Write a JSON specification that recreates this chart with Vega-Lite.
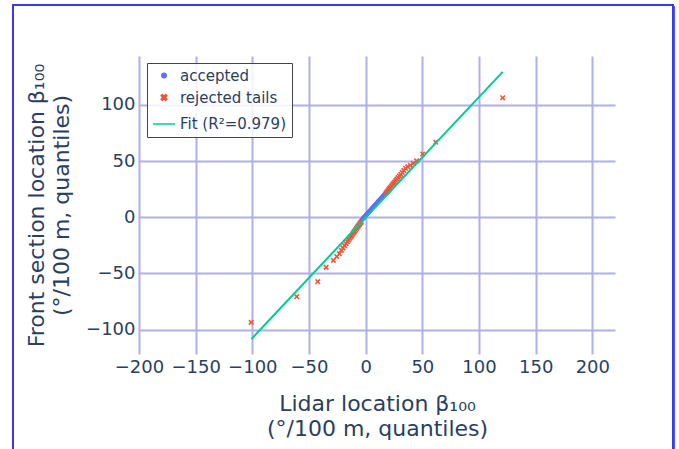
{
  "$schema": "https://vega.github.io/schema/vega-lite/v6.json",
  "width": 476,
  "height": 298,
  "autosize": {"type": "none"},
  "padding": {"left": 139, "top": 56, "right": 64, "bottom": 95},
  "background": "white",
  "config": {
    "view": {"stroke": null},
    "font": "DejaVu Sans",
    "axis": {
      "grid": true,
      "gridColor": "#b0b0e8",
      "gridWidth": 2,
      "gridOpacity": 1,
      "domain": false,
      "ticks": false,
      "labelOverlap": false,
      "labelFlush": false,
      "labelFont": "DejaVu Sans",
      "labelFontSize": 18,
      "labelColor": "#2a3f5f",
      "titleFont": "DejaVu Sans",
      "titleFontSize": 22,
      "titleFontWeight": "normal",
      "titleColor": "#2a3f5f",
      "titleLineHeight": 25
    }
  },
  "data": {
    "values": [
      {"x": -3.4, "y": -2.5, "series": "accepted"},
      {"x": -3.0, "y": -1.9, "series": "accepted"},
      {"x": -2.6, "y": -1.5, "series": "accepted"},
      {"x": -2.2, "y": -1.0, "series": "accepted"},
      {"x": -1.9, "y": -0.7, "series": "accepted"},
      {"x": -1.6, "y": -0.3, "series": "accepted"},
      {"x": -1.3, "y": 0.0, "series": "accepted"},
      {"x": -1.0, "y": 0.4, "series": "accepted"},
      {"x": -0.7, "y": 0.7, "series": "accepted"},
      {"x": -0.4, "y": 1.0, "series": "accepted"},
      {"x": -0.1, "y": 1.4, "series": "accepted"},
      {"x": 0.2, "y": 1.7, "series": "accepted"},
      {"x": 0.5, "y": 2.1, "series": "accepted"},
      {"x": 0.8, "y": 2.4, "series": "accepted"},
      {"x": 1.1, "y": 2.8, "series": "accepted"},
      {"x": 1.4, "y": 3.1, "series": "accepted"},
      {"x": 1.7, "y": 3.5, "series": "accepted"},
      {"x": 2.0, "y": 3.8, "series": "accepted"},
      {"x": 2.4, "y": 4.3, "series": "accepted"},
      {"x": 2.8, "y": 4.7, "series": "accepted"},
      {"x": 3.2, "y": 5.2, "series": "accepted"},
      {"x": 3.6, "y": 5.6, "series": "accepted"},
      {"x": 4.0, "y": 6.1, "series": "accepted"},
      {"x": 4.5, "y": 6.7, "series": "accepted"},
      {"x": 5.0, "y": 7.2, "series": "accepted"},
      {"x": 5.5, "y": 7.8, "series": "accepted"},
      {"x": 6.0, "y": 8.4, "series": "accepted"},
      {"x": 6.6, "y": 9.1, "series": "accepted"},
      {"x": 7.2, "y": 9.8, "series": "accepted"},
      {"x": 7.8, "y": 10.5, "series": "accepted"},
      {"x": 8.4, "y": 11.2, "series": "accepted"},
      {"x": 9.1, "y": 12.0, "series": "accepted"},
      {"x": 9.8, "y": 12.8, "series": "accepted"},
      {"x": 10.6, "y": 13.7, "series": "accepted"},
      {"x": 11.4, "y": 14.6, "series": "accepted"},
      {"x": 12.3, "y": 15.6, "series": "accepted"},
      {"x": 13.2, "y": 16.7, "series": "accepted"},
      {"x": 14.2, "y": 17.8, "series": "accepted"},
      {"x": 15.2, "y": 19.0, "series": "accepted"},
      {"x": 16.3, "y": 20.2, "series": "accepted"},
      {"x": 17.4, "y": 21.4, "series": "accepted"},
      {"x": 18.0, "y": 21.6, "series": "rejected tails"},
      {"x": 18.8, "y": 22.6, "series": "rejected tails"},
      {"x": 19.6, "y": 23.6, "series": "rejected tails"},
      {"x": 20.4, "y": 24.7, "series": "rejected tails"},
      {"x": 21.2, "y": 25.7, "series": "rejected tails"},
      {"x": 22.0, "y": 26.7, "series": "rejected tails"},
      {"x": 22.9, "y": 27.9, "series": "rejected tails"},
      {"x": 23.8, "y": 29.0, "series": "rejected tails"},
      {"x": 24.7, "y": 30.2, "series": "rejected tails"},
      {"x": 25.6, "y": 31.3, "series": "rejected tails"},
      {"x": 26.6, "y": 32.6, "series": "rejected tails"},
      {"x": 27.6, "y": 33.9, "series": "rejected tails"},
      {"x": 28.7, "y": 35.3, "series": "rejected tails"},
      {"x": 29.8, "y": 36.7, "series": "rejected tails"},
      {"x": 31.0, "y": 38.2, "series": "rejected tails"},
      {"x": 32.3, "y": 39.9, "series": "rejected tails"},
      {"x": 33.7, "y": 41.7, "series": "rejected tails"},
      {"x": 35.2, "y": 43.6, "series": "rejected tails"},
      {"x": 37.2, "y": 44.8, "series": "rejected tails"},
      {"x": 39.4, "y": 46.2, "series": "rejected tails"},
      {"x": 42.0, "y": 48.0, "series": "rejected tails"},
      {"x": 45.0, "y": 50.2, "series": "rejected tails"},
      {"x": 50.3, "y": 56.3, "series": "rejected tails"},
      {"x": 61.8, "y": 66.8, "series": "rejected tails"},
      {"x": 120.9, "y": 106.4, "series": "rejected tails"},
      {"x": -3.9, "y": -4.0, "series": "rejected tails"},
      {"x": -4.5, "y": -4.9, "series": "rejected tails"},
      {"x": -5.2, "y": -5.9, "series": "rejected tails"},
      {"x": -5.9, "y": -6.9, "series": "rejected tails"},
      {"x": -6.6, "y": -7.9, "series": "rejected tails"},
      {"x": -7.3, "y": -8.9, "series": "rejected tails"},
      {"x": -8.0, "y": -9.9, "series": "rejected tails"},
      {"x": -8.8, "y": -11.1, "series": "rejected tails"},
      {"x": -9.6, "y": -12.3, "series": "rejected tails"},
      {"x": -10.4, "y": -13.4, "series": "rejected tails"},
      {"x": -11.2, "y": -14.6, "series": "rejected tails"},
      {"x": -12.1, "y": -15.9, "series": "rejected tails"},
      {"x": -13.0, "y": -17.2, "series": "rejected tails"},
      {"x": -14.0, "y": -18.6, "series": "rejected tails"},
      {"x": -15.0, "y": -20.1, "series": "rejected tails"},
      {"x": -16.1, "y": -21.7, "series": "rejected tails"},
      {"x": -17.3, "y": -23.4, "series": "rejected tails"},
      {"x": -18.6, "y": -25.3, "series": "rejected tails"},
      {"x": -20.0, "y": -27.3, "series": "rejected tails"},
      {"x": -21.5, "y": -29.5, "series": "rejected tails"},
      {"x": -23.2, "y": -32.5, "series": "rejected tails"},
      {"x": -25.5, "y": -35.0, "series": "rejected tails"},
      {"x": -28.5, "y": -38.4, "series": "rejected tails"},
      {"x": -34.9, "y": -44.6, "series": "rejected tails"},
      {"x": -42.3, "y": -57.4, "series": "rejected tails"},
      {"x": -60.8, "y": -70.8, "series": "rejected tails"},
      {"x": -101.0, "y": -93.6, "series": "rejected tails"},
      {"x": -100.8, "y": -108.5, "series": "Fit (R²=0.979)"},
      {"x": 120.9, "y": 129.5, "series": "Fit (R²=0.979)"}
    ]
  },
  "layer": [
    {
      "mark": {"type": "rect", "filled": false, "stroke": "#3a3af2", "strokeWidth": 1.3, "clip": false},
      "encoding": {
        "x": {"datum": -311.2, "type": "quantitative", "scale": {"domain": [-200, 220], "nice": false, "zero": false}},
        "x2": {"datum": 271.5},
        "y": {"datum": 188.6, "type": "quantitative", "scale": {"domain": [-121.8, 143.6], "nice": false, "zero": false}},
        "y2": {"datum": -230}
      }
    },
    {
      "transform": [{"filter": "datum.series !== 'Fit (R²=0.979)'"}],
      "mark": {"type": "point", "filled": true, "opacity": 1, "strokeWidth": 0},
      "encoding": {
        "x": {
          "field": "x", "type": "quantitative",
          "scale": {"domain": [-200, 220], "nice": false, "zero": false},
          "axis": {
            "values": [-200, -150, -100, -50, 0, 50, 100, 150, 200],
            "labelPadding": 4,
            "titlePadding": 17,
            "title": ["Lidar location β₁₀₀", "(°/100 m, quantiles)"]
          }
        },
        "y": {
          "field": "y", "type": "quantitative",
          "scale": {"domain": [-121.8, 143.6], "nice": false, "zero": false},
          "axis": {
            "values": [-100, -50, 0, 50, 100],
            "labelPadding": 4,
            "titlePadding": 12,
            "title": ["Front section location β₁₀₀", "(°/100 m, quantiles)"]
          }
        },
        "color": {
          "field": "series", "type": "nominal",
          "scale": {
            "domain": ["accepted", "rejected tails", "Fit (R²=0.979)"],
            "range": ["#636efa", "#ef553b", "#00cc96"]
          },
          "legend": {
            "title": null,
            "orient": "none",
            "legendX": 8,
            "legendY": 7,
            "padding": 5,
            "rowPadding": 6,
            "labelOffset": 4,
            "labelFont": "DejaVu Sans",
            "labelFontSize": 15,
            "labelColor": "#2a3f5f",
            "strokeColor": "#444444",
            "fillColor": "rgba(255,255,255,0.85)",
            "labelLimit": 300,
            "encode": {
              "symbols": {
                "update": {
                  "stroke": {"scale": "color", "field": "value"},
                  "strokeWidth": {"signal": "datum.value === 'Fit (R²=0.979)' ? 2 : 0"},
                  "opacity": {"value": 1}
                }
              }
            }
          }
        },
        "shape": {
          "field": "series", "type": "nominal",
          "scale": {
            "domain": ["accepted", "rejected tails", "Fit (R²=0.979)"],
            "range": ["circle", "M-1,-0.6L-0.6,-1L0,-0.4L0.6,-1L1,-0.6L0.4,0L1,0.6L0.6,1L0,0.4L-0.6,1L-1,0.6L-0.4,0Z", "stroke"]
          }
        },
        "size": {
          "field": "series", "type": "nominal",
          "scale": {
            "type": "ordinal",
            "domain": ["accepted", "rejected tails", "Fit (R²=0.979)"],
            "range": [20, 32, 480]
          }
        }
      }
    },
    {
      "transform": [{"filter": "datum.series === 'Fit (R²=0.979)'"}],
      "mark": {"type": "line", "strokeWidth": 2},
      "encoding": {
        "x": {"field": "x", "type": "quantitative"},
        "y": {"field": "y", "type": "quantitative"},
        "color": {"field": "series", "type": "nominal"}
      }
    }
  ]
}
